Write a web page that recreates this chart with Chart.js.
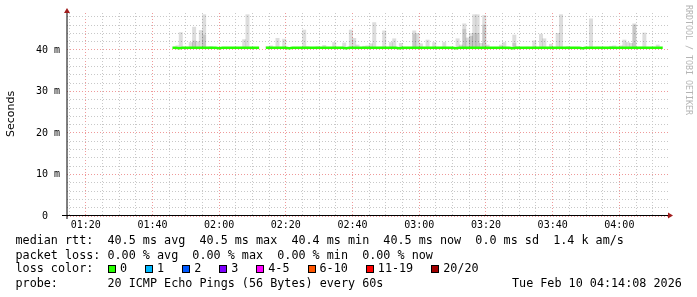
<!DOCTYPE html>
<html>
<head>
<meta charset="utf-8">
<script src="https://cdn.jsdelivr.net/npm/chart.js@4.4.1/dist/chart.umd.min.js"></script>
<style>
  html, body { margin: 0; padding: 0; background: #fff; }
  canvas { display: block; }
</style>
</head>
<body>
<canvas id="rttChart" width="697" height="297"></canvas>
<script>
// visible time window (clock time)
var axisStart = '01:14:23';
var axisEnd = '04:14:35';

// tick labels
var xTickLabels = ['01:20', '01:40', '02:00', '02:20', '02:40', '03:00', '03:20', '03:40', '04:00'];
var xMinorStep = 5;
var yTickLabels = ['0', '10 m', '20 m', '30 m', '40 m'];
var yTickValues = [0, 10, 20, 30, 40];
var yMinorStep = 2;
var yTop = 48.9;

// median rtt (ms), one value per minute starting at medianStart, null = no data
var medianStart = '01:46';
var medianRtt = [
  40.5, 40.5, 40.4, 40.5, 40.5, 40.5, 40.5, 40.5, 40.5, 40.5,
  40.5, 40.5, 40.5, 40.5, 40.4, 40.5, 40.5, 40.5, 40.5, 40.5,
  40.5, 40.5, 40.5, 40.5, 40.5, 40.5, 40.5, null, 40.5, 40.5,
  40.5, 40.5, 40.5, 40.5, 40.5, 40.4, 40.5, 40.5, 40.5, 40.5,
  40.5, 40.5, 40.5, 40.5, 40.5, 40.5, 40.5, 40.5, 40.5, 40.5,
  40.5, 40.5, 40.4, 40.5, 40.5, 40.5, 40.5, 40.5, 40.5, 40.5,
  40.5, 40.5, 40.5, 40.5, 40.5, 40.5, 40.5, 40.5, 40.4, 40.5,
  40.5, 40.5, 40.5, 40.5, 40.5, 40.5, 40.5, 40.5, 40.5, 40.5,
  40.5, 40.5, 40.5, 40.5, 40.5, 40.4, 40.5, 40.5, 40.5, 40.5,
  40.5, 40.5, 40.5, 40.5, 40.5, 40.5, 40.5, 40.5, 40.5, 40.5,
  40.5, 40.5, 40.4, 40.5, 40.5, 40.5, 40.5, 40.5, 40.5, 40.5,
  40.5, 40.5, 40.5, 40.5, 40.5, 40.5, 40.5, 40.5, 40.5, 40.5,
  40.5, 40.5, 40.5, 40.4, 40.5, 40.5, 40.5, 40.5, 40.5, 40.5,
  40.5, 40.5, 40.5, 40.5, 40.5, 40.5, 40.5, 40.5, 40.5, 40.5,
  40.5, 40.5, 40.5, 40.5, 40.5, 40.5, 40.5, 40.5
];

// smoke: minutes with pings above the median, slowest ping and second band (ms)
var smokeTimes = [
  '01:47', '01:48', '01:51', '01:52', '01:53', '01:54', '01:55', '01:57', '02:07', '02:08',
  '02:14', '02:15', '02:17', '02:19', '02:25', '02:26', '02:29', '02:31', '02:34', '02:37',
  '02:39', '02:40', '02:41', '02:43', '02:44', '02:45', '02:46', '02:48', '02:49', '02:51',
  '02:52', '02:54', '02:58', '02:59', '03:00', '03:02', '03:04', '03:07', '03:11', '03:12',
  '03:13', '03:14', '03:15', '03:16', '03:17', '03:18', '03:19', '03:20', '03:24', '03:25',
  '03:28', '03:29', '03:32', '03:34', '03:36', '03:37', '03:39', '03:41', '03:42', '03:44',
  '03:49', '03:51', '03:53', '03:57', '03:58', '04:00', '04:01', '04:02', '04:03', '04:04',
  '04:06', '04:07', '04:11'
];
var smokeMax = [
  41.0, 44.2, 41.8, 45.5, 42.0, 44.7, 48.5, 40.8, 42.5, 48.5,
  40.8, 41.0, 42.8, 42.6, 44.8, 40.8, 40.8, 41.1, 41.8, 41.7,
  44.8, 42.8, 41.2, 40.9, 41.0, 41.5, 46.6, 40.7, 44.6, 41.8,
  42.7, 41.6, 44.6, 44.0, 41.5, 42.4, 41.8, 41.8, 42.7, 41.2,
  46.3, 42.9, 43.3, 48.5, 48.5, 41.6, 48.3, 41.2, 41.2, 41.8,
  43.6, 40.8, 40.7, 42.2, 43.8, 42.7, 41.4, 44.0, 48.5, 40.8,
  40.7, 47.5, 40.7, 40.9, 41.0, 41.0, 42.4, 41.8, 41.6, 46.3,
  40.7, 44.1, 41.2
];
var smokeInner = [
  null, null, null, 42.2, null, null, 43.6, null, null, null,
  null, null, null, null, null, null, null, null, null, null,
  null, null, null, null, null, null, null, null, null, null,
  null, null, 43.8, null, null, null, null, null, null, null,
  45.0, null, 44.0, 44.0, 44.0, null, 46.0, null, null, null,
  41.6, null, null, null, null, null, null, null, null, null,
  null, null, null, null, null, null, null, null, null, 46.0,
  null, null, null
];

// legend figures
var statNames = ['avg', 'max', 'min', 'now'];
var rttStats = [40.5, 40.5, 40.4, 40.5];
var lossStats = [0, 0, 0, 0];
var rttSd = 0.0;
var amPerSec = 1.4;
var lossLevels = ['0', '1', '2', '3', '4-5', '6-10', '11-19', '20/20'];
var lossColors = ['#26ff00', '#00b8ff', '#0059ff', '#7e00ff', '#ff00ff', '#ff5500', '#ff0000', '#a10000'];
var probeText = '20 ICMP Echo Pings (56 Bytes) every 60s';
var stampText = 'Tue Feb 10 04:14:08 2026';

function toMin(t) {
  var p = t.split(':').map(Number);
  return p[0] * 60 + p[1] + (p[2] || 0) / 60;
}

var firstMin = toMin(medianStart);
var medianPoints = medianRtt.map(function(v, i) { return { x: firstMin + i, y: v }; });
function medianAt(t) {
  var v = medianRtt[toMin(t) - firstMin];
  return v == null ? 40.5 : v;
}
var outerBars = smokeTimes.map(function(t, i) {
  return { x: toMin(t) + 0.5, y: [medianAt(t), smokeMax[i]] };
});
var innerBars = [];
smokeTimes.forEach(function(t, i) {
  if (smokeInner[i] != null) innerBars.push({ x: toMin(t) + 0.5, y: [medianAt(t), smokeInner[i]] });
});

var majorX = xTickLabels.map(toMin);
var mono = '"DejaVu Sans Mono"';

var extras = {
  id: 'rrdExtras',
  afterDraw: function(chart) {
    var ctx = chart.ctx, a = chart.chartArea;
    var y0 = chart.scales.y.getPixelForValue(0);
    ctx.save();

    // axes
    ctx.strokeStyle = '#000';
    ctx.lineWidth = 1;
    ctx.beginPath();
    ctx.moveTo(62, y0 - 0.5);
    ctx.lineTo(a.right + 1, y0 - 0.5);
    ctx.stroke();
    ctx.beginPath();
    ctx.moveTo(a.left, y0 + 3);
    ctx.lineTo(a.left, a.top - 1);
    ctx.stroke();
    ctx.fillStyle = '#a11d1d';
    ctx.beginPath();
    ctx.moveTo(a.right, y0 - 3.5);
    ctx.lineTo(a.right + 5, y0 - 0.5);
    ctx.lineTo(a.right, y0 + 2.5);
    ctx.closePath();
    ctx.fill();
    ctx.beginPath();
    ctx.moveTo(a.left - 3, a.top);
    ctx.lineTo(a.left, a.top - 5);
    ctx.lineTo(a.left + 3, a.top);
    ctx.closePath();
    ctx.fill();

    // y title
    ctx.fillStyle = '#000';
    ctx.font = '11px "DejaVu Sans"';
    ctx.textAlign = 'center';
    ctx.textBaseline = 'middle';
    ctx.save();
    ctx.translate(11, 114);
    ctx.rotate(-Math.PI / 2);
    ctx.fillText('Seconds', 0, 0);
    ctx.restore();

    // watermark
    ctx.save();
    ctx.fillStyle = '#b4b4b4';
    ctx.font = '8.3px ' + mono;
    ctx.textAlign = 'left';
    ctx.translate(688.5, 5);
    ctx.rotate(Math.PI / 2);
    ctx.fillText('RRDTOOL / TOBI OETIKER', 0, 0);
    ctx.restore();

    // legend rows
    ctx.fillStyle = '#000';
    ctx.font = '11.75px ' + mono;
    ctx.textAlign = 'left';
    var rows = [241, 255.5, 269.3, 283.5];
    var rttLine = 'median rtt:  ' + statNames.map(function(n, i) {
      return rttStats[i].toFixed(1) + ' ms ' + n;
    }).join('  ') + '  ' + rttSd.toFixed(1) + ' ms sd  ' + amPerSec.toFixed(1) + ' k am/s';
    var lossLine = 'packet loss: ' + statNames.map(function(n, i) {
      return lossStats[i].toFixed(2) + ' % ' + n;
    }).join('  ');
    ctx.fillText(rttLine, 15.5, rows[0]);
    ctx.fillText(lossLine, 15.5, rows[1]);

    ctx.fillText('loss color:', 15.5, rows[2]);
    var bx = 108;
    lossLevels.forEach(function(lbl, i) {
      ctx.fillStyle = '#000';
      ctx.fillRect(Math.round(bx), 265, 8, 8);
      ctx.fillStyle = lossColors[i];
      ctx.fillRect(Math.round(bx) + 1, 266, 6, 6);
      ctx.fillStyle = '#000';
      ctx.fillText(lbl, bx + 12, rows[2]);
      bx = bx + 12 + ctx.measureText(lbl).width + 18;
    });

    ctx.fillText('probe:       ' + probeText, 15.5, rows[3]);
    ctx.fillText(stampText, 512, rows[3]);
    ctx.restore();
  }
};

var ctx = document.getElementById('rttChart').getContext('2d');
var chart = new Chart(ctx, {
  type: 'line',
  data: {
    datasets: [{
      type: 'line',
      label: 'median rtt',
      data: medianPoints,
      borderColor: '#26ff00',
      borderWidth: 2.5,
      pointRadius: 0,
      spanGaps: false,
      order: 0
    }, {
      type: 'bar',
      label: 'smoke inner',
      data: innerBars,
      backgroundColor: 'rgba(0,0,0,0.1)',
      borderWidth: 0,
      grouped: false,
      barPercentage: 1,
      categoryPercentage: 1,
      order: 1
    }, {
      type: 'bar',
      label: 'smoke',
      data: outerBars,
      backgroundColor: 'rgba(0,0,0,0.135)',
      borderWidth: 0,
      grouped: false,
      barPercentage: 1,
      categoryPercentage: 1,
      order: 2
    }]
  },
  options: {
    responsive: false,
    animation: false,
    layout: { padding: { left: 0, right: 29, top: 13, bottom: 61 } },
    plugins: { legend: { display: false }, tooltip: { enabled: false } },
    scales: {
      x: {
        type: 'linear',
        min: toMin(axisStart),
        max: toMin(axisEnd),
        offset: false,
        afterFit: function(s) { s.height = 20; },
        afterBuildTicks: function(s) {
          var t = [];
          for (var m = Math.ceil(s.min / xMinorStep) * xMinorStep; m <= s.max; m += xMinorStep) t.push({ value: m });
          s.ticks = t;
        },
        border: { display: false, dash: [1, 2] },
        grid: {
          offset: false,
          drawTicks: false,
          color: function(c) {
            return majorX.indexOf(c.tick.value) >= 0 ? '#ef9a9a' : '#c8c8c8';
          }
        },
        ticks: {
          autoSkip: false,
          maxRotation: 0,
          padding: 3,
          color: '#000',
          font: { family: 'DejaVu Sans Mono', size: 10 },
          callback: function(v) {
            var k = majorX.indexOf(v);
            return k >= 0 ? xTickLabels[k] : '';
          }
        }
      },
      y: {
        min: 0,
        max: yTop,
        afterFit: function(s) { s.width = 67; },
        afterBuildTicks: function(s) {
          var t = [];
          for (var v = 0; v <= s.max; v += yMinorStep) t.push({ value: v });
          s.ticks = t;
        },
        border: { display: false, dash: [1, 2] },
        grid: {
          drawTicks: false,
          color: function(c) {
            return yTickValues.indexOf(c.tick.value) >= 0 ? '#ef9a9a' : '#c8c8c8';
          }
        },
        ticks: {
          autoSkip: false,
          padding: 7,
          color: '#000',
          font: { family: 'DejaVu Sans Mono', size: 10 },
          callback: function(v) {
            var k = yTickValues.indexOf(v);
            if (k < 0) return '';
            var s = yTickLabels[k];
            return s.indexOf(' ') >= 0 ? s : s + '  ';
          }
        }
      }
    }
  },
  plugins: [extras]
});
</script>
</body>
</html>
